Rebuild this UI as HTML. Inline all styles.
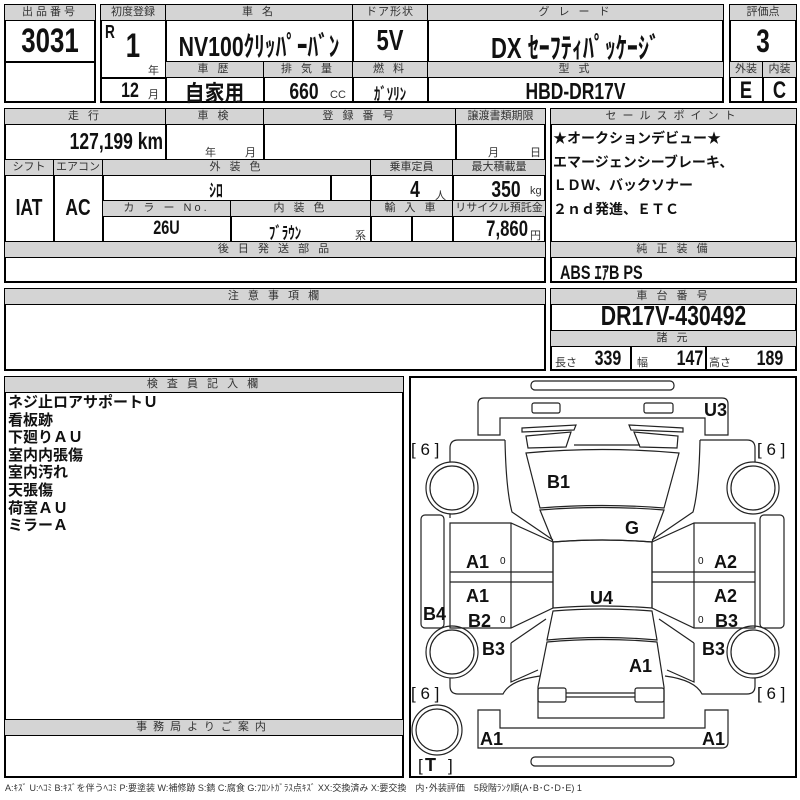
<!DOCTYPE html>
<html><head><meta charset="utf-8"><style>
body{margin:0;width:800px;height:800px;background:#fff;position:relative;overflow:hidden;font-family:"Liberation Sans","Noto Sans CJK JP",sans-serif}
div{position:absolute;box-sizing:border-box}
.o{border:2px solid #000}
.h{background:#d4d4d4;border:1px solid #000;font-size:11px;color:#333;text-align:center;letter-spacing:3px;line-height:15px;white-space:nowrap;overflow:hidden}
.c{border:1px solid #000}
.v{font-family:"Liberation Sans","Noto Sans CJK JP",sans-serif;font-weight:bold;color:#111;white-space:nowrap;text-align:center;transform:scaleX(.76);transform-origin:center}
.s{font-size:11px;color:#333;white-space:nowrap}
</style></head><body>
<!-- top left -->
<div class="o" style="left:4px;top:4px;width:92px;height:99px"></div>
<div class="h" style="left:4px;top:4px;width:92px;height:17px">出品番号</div>
<div class="c" style="left:4px;top:61px;width:92px;height:1px"></div>
<div class="v" style="left:4px;top:21px;width:92px;font-size:34px;line-height:40px">3031</div>
<!-- top main -->
<div class="o" style="left:100px;top:4px;width:624px;height:99px"></div>
<div class="h" style="left:100px;top:4px;width:66px;height:17px;letter-spacing:0">初度登録</div>
<div class="h" style="left:165px;top:4px;width:188px;height:17px">車 名</div>
<div class="h" style="left:352px;top:4px;width:76px;height:17px;letter-spacing:1px">ドア形状</div>
<div class="h" style="left:427px;top:4px;width:297px;height:17px">グ レ ー ド</div>
<div class="c" style="left:165px;top:20px;width:1px;height:83px"></div>
<div class="c" style="left:352px;top:20px;width:1px;height:83px"></div>
<div class="c" style="left:427px;top:20px;width:1px;height:83px"></div>
<div class="c" style="left:100px;top:77px;width:66px;height:1px"></div>
<div class="h" style="left:165px;top:61px;width:99px;height:17px">車 歴</div>
<div class="h" style="left:263px;top:61px;width:90px;height:17px">排 気 量</div>
<div class="h" style="left:352px;top:61px;width:76px;height:17px">燃 料</div>
<div class="h" style="left:427px;top:61px;width:297px;height:17px">型 式</div>
<div class="c" style="left:263px;top:77px;width:1px;height:26px"></div>
<div class="v" style="left:103px;top:22px;width:14px;font-size:18px">R</div>
<div class="v" style="left:118px;top:27px;width:30px;font-size:34px">1</div>
<div class="s" style="left:148px;top:62px">年</div>
<div class="v" style="left:112px;top:79px;width:36px;font-size:21px">12</div>
<div class="s" style="left:148px;top:86px">月</div>
<div class="v" style="left:145px;top:25px;width:228px;font-size:28px">NV100ｸﾘｯﾊﾟｰﾊﾞﾝ</div>
<div class="v" style="left:352px;top:25px;width:76px;font-size:29px">5V</div>
<div class="v" style="left:427px;top:25px;width:297px;font-size:29px">DX ｾｰﾌﾃｨﾊﾟｯｹｰｼﾞ</div>
<div class="v" style="left:165px;top:76px;width:99px;font-size:22px;transform:scaleX(.9)">自家用</div>
<div class="v" style="left:277px;top:78px;width:54px;font-size:23px">660</div>
<div class="s" style="left:330px;top:89px">CC</div>
<div class="v" style="left:352px;top:80px;width:76px;font-size:17px">ｶﾞｿﾘﾝ</div>
<div class="v" style="left:427px;top:78px;width:297px;font-size:23px">HBD-DR17V</div>
<!-- score -->
<div class="o" style="left:729px;top:4px;width:68px;height:99px"></div>
<div class="h" style="left:729px;top:4px;width:68px;height:17px;letter-spacing:0">評価点</div>
<div class="h" style="left:729px;top:61px;width:34px;height:17px;letter-spacing:0">外装</div>
<div class="h" style="left:762px;top:61px;width:35px;height:17px;letter-spacing:0">内装</div>
<div class="c" style="left:762px;top:77px;width:1px;height:26px"></div>
<div class="v" style="left:729px;top:23px;width:68px;font-size:32px">3</div>
<div class="v" style="left:729px;top:77px;width:34px;font-size:24px">E</div>
<div class="v" style="left:762px;top:77px;width:35px;font-size:24px">C</div>
<!-- row2 left -->
<div class="o" style="left:4px;top:108px;width:542px;height:175px"></div>
<div class="h" style="left:4px;top:108px;width:162px;height:17px">走 行</div>
<div class="h" style="left:165px;top:108px;width:99px;height:17px">車 検</div>
<div class="h" style="left:263px;top:108px;width:193px;height:17px">登 録 番 号</div>
<div class="h" style="left:455px;top:108px;width:91px;height:17px;letter-spacing:0">譲渡書類期限</div>
<div class="c" style="left:165px;top:124px;width:1px;height:36px"></div>
<div class="c" style="left:263px;top:124px;width:1px;height:36px"></div>
<div class="c" style="left:455px;top:124px;width:1px;height:36px"></div>
<div class="v" style="left:4px;top:128px;width:159px;font-size:23px;text-align:right;transform-origin:right">127,199 km</div>
<div class="s" style="left:205px;top:144px">年</div><div class="s" style="left:245px;top:144px">月</div>
<div class="s" style="left:488px;top:144px">月</div><div class="s" style="left:530px;top:144px">日</div>
<div class="h" style="left:4px;top:159px;width:50px;height:17px;letter-spacing:0">シフト</div>
<div class="h" style="left:53px;top:159px;width:50px;height:17px;letter-spacing:0">エアコン</div>
<div class="h" style="left:102px;top:159px;width:269px;height:17px">外 装 色</div>
<div class="h" style="left:370px;top:159px;width:83px;height:17px;letter-spacing:0">乗車定員</div>
<div class="h" style="left:452px;top:159px;width:94px;height:17px;letter-spacing:0">最大積載量</div>
<div class="c" style="left:53px;top:175px;width:1px;height:67px"></div>
<div class="c" style="left:102px;top:175px;width:1px;height:67px"></div>
<div class="c" style="left:370px;top:175px;width:1px;height:67px"></div>
<div class="c" style="left:452px;top:175px;width:1px;height:67px"></div>
<div class="c" style="left:330px;top:175px;width:1px;height:26px"></div>
<div class="h" style="left:102px;top:200px;width:129px;height:17px">カ ラ ー No.</div>
<div class="h" style="left:230px;top:200px;width:141px;height:17px">内 装 色</div>
<div class="h" style="left:370px;top:200px;width:83px;height:17px">輸 入 車</div>
<div class="h" style="left:452px;top:200px;width:94px;height:17px;letter-spacing:0">リサイクル預託金</div>
<div class="c" style="left:230px;top:216px;width:1px;height:26px"></div>
<div class="c" style="left:411px;top:216px;width:1px;height:26px"></div>
<div class="v" style="left:4px;top:194px;width:50px;font-size:23px">IAT</div>
<div class="v" style="left:53px;top:194px;width:50px;font-size:23px">AC</div>
<div class="v" style="left:102px;top:177px;width:228px;font-size:18px">ｼﾛ</div>
<div class="v" style="left:400px;top:176px;width:30px;font-size:23px">4</div><div class="s" style="left:435px;top:187px">人</div>
<div class="v" style="left:478px;top:176px;width:56px;font-size:23px">350</div><div class="s" style="left:530px;top:185px">kg</div>
<div class="v" style="left:102px;top:218px;width:129px;font-size:19px">26U</div>
<div class="v" style="left:230px;top:219px;width:110px;font-size:17px">ﾌﾞﾗｳﾝ</div><div class="s" style="left:355px;top:227px">系</div>
<div class="v" style="left:455px;top:216px;width:73px;font-size:22px;text-align:right;transform-origin:right">7,860</div><div class="s" style="left:530px;top:227px">円</div>
<div class="h" style="left:4px;top:241px;width:542px;height:17px">後 日 発 送 部 品</div>
<!-- sales point -->
<div class="o" style="left:550px;top:108px;width:247px;height:175px"></div>
<div class="h" style="left:550px;top:108px;width:247px;height:17px;letter-spacing:6px">セールスポイント</div>
<div style="left:553px;top:127px;font-size:14px;font-weight:bold;line-height:23.5px;color:#111;white-space:nowrap">★オークションデビュー★<br>エマージェンシーブレーキ、<br>ＬＤＷ、バックソナー<br>２ｎｄ発進、ＥＴＣ</div>
<div class="h" style="left:550px;top:241px;width:247px;height:17px">純 正 装 備</div>
<div class="v" style="left:560px;top:258px;font-size:19px;text-align:left;transform-origin:left">ABS ｴｱB PS</div>
<!-- row3 -->
<div class="o" style="left:4px;top:288px;width:542px;height:83px"></div>
<div class="h" style="left:4px;top:288px;width:542px;height:17px">注 意 事 項 欄</div>
<div class="o" style="left:550px;top:288px;width:247px;height:83px"></div>
<div class="h" style="left:550px;top:288px;width:247px;height:17px">車 台 番 号</div>
<div class="v" style="left:550px;top:300px;width:247px;font-size:28px">DR17V-430492</div>
<div class="h" style="left:550px;top:330px;width:247px;height:17px">諸 元</div>
<div class="c" style="left:630px;top:346px;width:1px;height:25px"></div>
<div class="c" style="left:705px;top:346px;width:1px;height:25px"></div>
<div class="s" style="left:555px;top:354px">長さ</div><div class="v" style="left:588px;top:347px;width:40px;font-size:21px">339</div>
<div class="s" style="left:637px;top:354px">幅</div><div class="v" style="left:670px;top:347px;width:40px;font-size:21px">147</div>
<div class="s" style="left:709px;top:354px">高さ</div><div class="v" style="left:750px;top:347px;width:40px;font-size:21px">189</div>
<!-- row4 left -->
<div class="o" style="left:4px;top:376px;width:400px;height:402px"></div>
<div class="h" style="left:4px;top:376px;width:400px;height:17px">検 査 員 記 入 欄</div>
<div style="left:8px;top:394px;font-size:15px;font-weight:bold;line-height:17.6px;color:#111;white-space:nowrap">ネジ止ロアサポートＵ<br>看板跡<br>下廻りＡＵ<br>室内内張傷<br>室内汚れ<br>天張傷<br>荷室ＡＵ<br>ミラーＡ</div>
<div class="h" style="left:4px;top:719px;width:400px;height:17px;letter-spacing:6px">事務局よりご案内</div>
<!-- diagram -->
<div class="o" style="left:409px;top:376px;width:388px;height:402px"></div>
<svg width="800" height="800" style="position:absolute;left:0;top:0" fill="none" stroke="#222" stroke-width="1.2">
<rect x="531" y="381" width="143" height="9" rx="4"/>
<rect x="531" y="757" width="143" height="9" rx="4"/>
<path d="M478 435 V404 Q478 398 484 398 H722 Q728 398 728 404 V435 H705 V418 H500 V435 Z"/>
<rect x="532" y="403" width="28" height="10" rx="2"/><rect x="644" y="403" width="29" height="10" rx="2"/>
<path d="M478 710 V748 H722 Q728 748 728 742 V710 H705 V728 H500 V710 Z"/>
<path d="M522 428 L576 425 L574 430 L522 432 Z"/><path d="M526 436 L571 432 L566 447 L528 448 Z"/>
<path d="M629 425 L683 428 L683 432 L631 430 Z"/><path d="M634 432 L678 436 L677 448 L640 447 Z"/>
<path d="M574 445 L640 445"/>
<path d="M526 453 Q602 446 679 453 L664 508 Q602 503 540 508 Z"/>
<path d="M540 510 Q602 505 664 510 L652 542 Q602 538 553 542 Z"/>
<path d="M553 542 Q602 538 652 542 V608 Q602 604 553 608 Z"/>
<path d="M553 611 Q602 607 652 611 L657 640 Q602 635 547 640 Z"/>
<path d="M547 642 Q602 637 657 642 L664 687 V718 H538 V687 Z"/>
<rect x="538" y="688" width="28" height="14" rx="2"/><rect x="635" y="688" width="29" height="14" rx="2"/>
<path d="M566 693 H635 M566 697 H635"/>
<path d="M505 440 H458 Q450 440 450 448 V462"/>
<path d="M450 514 V518"/>
<path d="M505 440 Q506 490 512 512 L553 540"/>
<path d="M450 523 H511 L553 542 V608 L511 628 H450 Z"/>
<path d="M511 523 V628"/>
<path d="M450 572 H553 M450 582 H553"/>
<rect x="421" y="515" width="23" height="113" rx="4"/>
<path d="M450 678 V686 Q450 694 458 694 H503 Q510 680 540 676"/>
<path d="M511 643 L546 619 M511 643 V682 L538 670"/>
<path d="M700 440 H747 Q755 440 755 448 V462"/>
<path d="M700 440 Q699 490 693 512 L652 540"/>
<path d="M755 523 H694 L652 542 V608 L694 628 H755 Z"/>
<path d="M694 523 V628"/>
<path d="M652 572 H755 M652 582 H755"/>
<rect x="760" y="515" width="24" height="113" rx="4"/>
<path d="M755 678 V686 Q755 694 747 694 H702 Q695 680 665 676"/>
<path d="M694 643 L659 619 M694 643 V682 L667 670"/>
<circle cx="452" cy="488" r="26"/><circle cx="452" cy="488" r="22"/>
<circle cx="753" cy="488" r="26"/><circle cx="753" cy="488" r="22"/>
<circle cx="452" cy="652" r="26"/><circle cx="452" cy="652" r="22"/>
<circle cx="753" cy="652" r="26"/><circle cx="753" cy="652" r="22"/>
<circle cx="437" cy="730" r="25"/><circle cx="437" cy="730" r="21"/>
<g stroke="none" fill="#111" font-family="Liberation Sans, sans-serif" font-weight="bold" font-size="18">
<text x="704" y="416">U3</text>
<text x="547" y="488">B1</text>
<text x="625" y="534">G</text>
<text x="466" y="568">A1</text>
<text x="714" y="568">A2</text>
<text x="466" y="602">A1</text>
<text x="714" y="602">A2</text>
<text x="590" y="604">U4</text>
<text x="423" y="620">B4</text>
<text x="468" y="627">B2</text>
<text x="715" y="627">B3</text>
<text x="482" y="655">B3</text>
<text x="702" y="655">B3</text>
<text x="629" y="672">A1</text>
<text x="480" y="745">A1</text>
<text x="702" y="745">A1</text>
<text x="425" y="771">T</text>
<g font-size="17" font-weight="normal"><text x="411" y="455">[ 6 ]</text><text x="757" y="455">[ 6 ]</text><text x="411" y="699">[ 6 ]</text><text x="757" y="699">[ 6 ]</text><text x="418" y="771">[</text><text x="448" y="771">]</text></g>
<g font-size="10" font-weight="normal"><text x="500" y="564">0</text><text x="698" y="564">0</text><text x="500" y="623">0</text><text x="698" y="623">0</text></g>
</g>
</svg>
<div style="left:5px;top:781px;font-size:9px;color:#333;white-space:nowrap;font-family:'Liberation Sans','Noto Sans CJK JP',sans-serif">A:ｷｽﾞ U:ﾍｺﾐ B:ｷｽﾞを伴うﾍｺﾐ P:要塗装 W:補修跡 S:錆 C:腐食 G:ﾌﾛﾝﾄｶﾞﾗｽ点ｷｽﾞ XX:交換済み X:要交換　内･外装評価　5段階ﾗﾝｸ順(A･B･C･D･E) 1</div>
</body></html>
